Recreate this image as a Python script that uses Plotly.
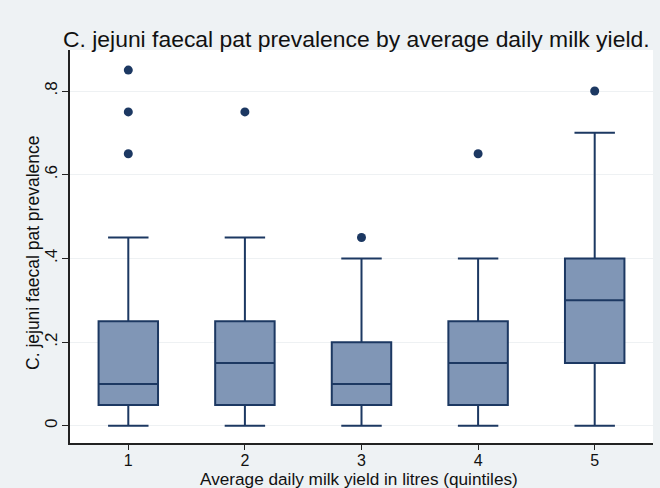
import plotly.graph_objects as go

# Quintile groups and their box statistics
quintiles = [1, 2, 3, 4, 5]
lower_whisker = [0.0, 0.0, 0.0, 0.0, 0.0]
q1 = [0.05, 0.05, 0.05, 0.05, 0.15]
median = [0.10, 0.15, 0.10, 0.15, 0.30]
q3 = [0.25, 0.25, 0.20, 0.25, 0.40]
upper_whisker = [0.45, 0.45, 0.40, 0.40, 0.70]

# Outlying observations
outlier_x = [1, 1, 1, 2, 3, 4, 5]
outlier_y = [0.85, 0.75, 0.65, 0.75, 0.45, 0.65, 0.80]

y_ticks = [0, 0.2, 0.4, 0.6, 0.8]
y_tick_text = ["0", ".2", ".4", ".6", ".8"]

navy = "#1c3862"
fill = "#8096b6"
bg = "#eef2f4"
ink = "#111111"

fig = go.Figure()
fig.add_trace(go.Box(
    x=quintiles,
    q1=q1, median=median, q3=q3,
    lowerfence=lower_whisker, upperfence=upper_whisker,
    fillcolor=fill,
    line=dict(color=navy, width=2),
    width=0.51,
    whiskerwidth=0.68,
    boxpoints=False,
    showlegend=False,
    hoverinfo="skip",
))
fig.add_trace(go.Scatter(
    x=outlier_x, y=outlier_y, mode="markers",
    marker=dict(color=navy, size=9),
    showlegend=False, hoverinfo="skip",
))

font_family = "Liberation Sans, Arial, sans-serif"

fig.update_layout(
    width=660, height=488,
    margin=dict(l=70, r=7, t=50, b=45),
    paper_bgcolor=bg,
    plot_bgcolor="white",
    font=dict(family=font_family, color=ink),
    title=dict(
        text="C. jejuni faecal pat prevalence by average daily milk yield.",
        x=63 / 660, xref="container", xanchor="left",
        y=1 - 39 / 488, yref="container", yanchor="middle",
        font=dict(size=22.9, color=ink, family=font_family),
    ),
    xaxis=dict(
        range=[0.5, 5.5],
        tickvals=quintiles,
        ticktext=[str(q) for q in quintiles],
        ticks="outside", ticklen=5, tickcolor="#222222",
        ticklabelstandoff=-3,
        showline=True, linecolor="#222222", linewidth=1.5,
        showgrid=False, zeroline=False,
        automargin=False,
        tickfont=dict(size=16),
    ),
    yaxis=dict(
        range=[-0.041, 0.898],
        tickvals=y_ticks,
        ticktext=y_tick_text,
        tickangle=-90,
        ticks="outside", ticklen=6, tickcolor="#222222",
        ticklabelstandoff=-2,
        showline=True, linecolor="#222222", linewidth=1.5,
        showgrid=True, gridcolor="#eef1f3", gridwidth=1,
        zeroline=False,
        automargin=False,
        tickfont=dict(size=17),
    ),
    annotations=[
        dict(
            text="C. jejuni faecal pat prevalence",
            xref="paper", yref="paper",
            x=0, y=0.4835, xshift=-37,
            xanchor="center", yanchor="middle",
            textangle=-90, showarrow=False,
            font=dict(size=17.5, color=ink),
        ),
        dict(
            text="Average daily milk yield in litres (quintiles)",
            xref="paper", yref="paper",
            x=0.495, y=0, yshift=-36,
            xanchor="center", yanchor="middle",
            showarrow=False,
            font=dict(size=17.2, color=ink),
        ),
    ],
)

fig.write_html("out.html")
